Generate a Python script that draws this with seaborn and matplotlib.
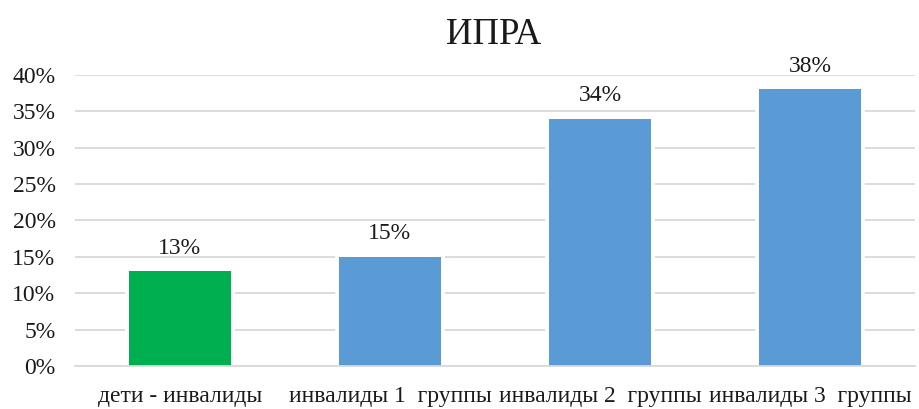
import matplotlib
matplotlib.use("Agg")
import matplotlib.pyplot as plt
import seaborn as sns
import pandas as pd
from matplotlib.ticker import PercentFormatter, FixedLocator

categories = ["дети - инвалиды", "инвалиды 1  группы", "инвалиды 2  группы", "инвалиды 3  группы"]
values = [0.13, 0.15, 0.34, 0.38]
labels = ["13%", "15%", "34%", "38%"]
colors = ["#00B050", "#5B9BD5", "#5B9BD5", "#5B9BD5"]

df = pd.DataFrame({"cat": categories, "val": values})

sns.set_style("white")
plt.rcParams["font.family"] = ["Liberation Serif", "DejaVu Serif"]

fig = plt.figure(figsize=(9.2, 4.09), dpi=100)
ax = fig.add_axes([0.0815, 0.105, 0.913, 0.712])

# white halo first (cuts the gridlines), then the plain fill on top
sns.barplot(data=df, x="cat", y="val", hue="cat", palette=colors, legend=False,
            width=0.486, edgecolor="white", linewidth=5.5, saturation=1, ax=ax)
sns.barplot(data=df, x="cat", y="val", hue="cat", palette=colors, legend=False,
            width=0.486, linewidth=0, saturation=1, ax=ax)

ax.set_ylim(0, 0.40)
ax.set_xlim(-0.5, 3.5)
ax.yaxis.set_major_locator(FixedLocator([i * 0.05 for i in range(9)]))
ax.yaxis.set_major_formatter(PercentFormatter(1.0, decimals=0))
ax.set_axisbelow(True)
ax.yaxis.grid(True, color="#d9d9d9", linewidth=1.3)

for s in ["left", "right", "top"]:
    ax.spines[s].set_visible(False)
ax.spines["bottom"].set_color("#d9d9d9")
ax.spines["bottom"].set_linewidth(1.3)
ax.spines["bottom"].set_zorder(3)

ax.tick_params(axis="y", length=0, labelsize=17, pad=14, labelcolor="#1a1a1a")
ax.tick_params(axis="x", which="major", length=0, labelsize=17, pad=14.5, labelcolor="#1a1a1a")
ax.set_xticks([-0.5, 0.5, 1.5, 2.5, 3.5], minor=True)
ax.tick_params(axis="x", which="minor", length=5, color="#d9d9d9", width=1.3)

for i, (v, lab) in enumerate(zip(values, labels)):
    ax.annotate(lab, (i, v), xytext=(0, 9), textcoords="offset points",
                ha="center", va="bottom", fontsize=17, color="#1a1a1a")

ax.set_xlabel("")
ax.set_ylabel("")
fig.text(0.537, 0.915, "ИПРА", ha="center", va="center", fontsize=26.5, color="#1a1a1a")

fig.savefig("out.png", dpi=100)
